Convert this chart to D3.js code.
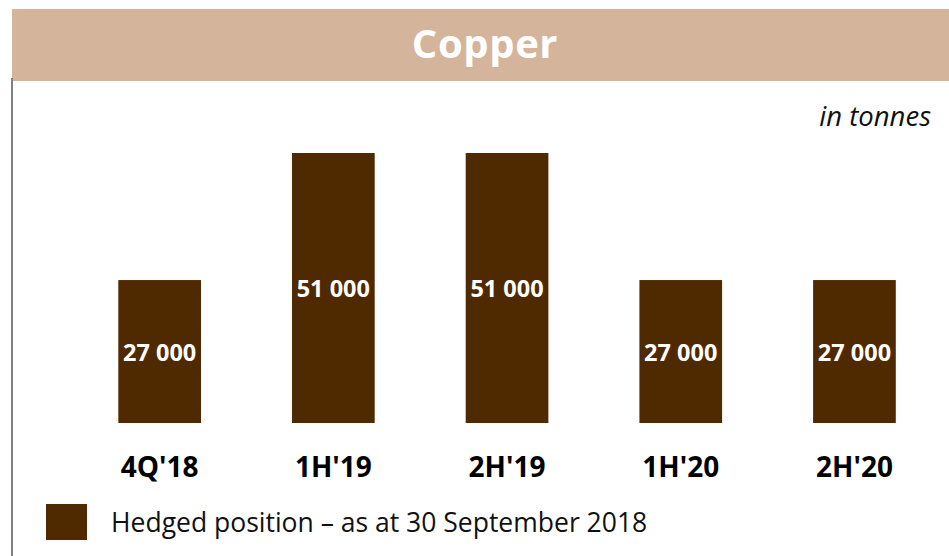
<!DOCTYPE html>
<html>
<head>
<meta charset="utf-8">
<script src="https://cdn.jsdelivr.net/npm/d3@7"></script>
<style>
  html, body { margin: 0; padding: 0; background: #ffffff; }
  svg { display: block; font-family: "Open Sans", sans-serif; }
</style>
</head>
<body>
<svg id="chart" width="949" height="556"></svg>
<script>
// Copper hedged positions per period (tonnes)
const periods = ["4Q'18", "1H'19", "2H'19", "1H'20", "2H'20"];
const hedged = [27000, 51000, 51000, 27000, 27000];
const titleText = "Copper";
const unitText = "in tonnes";
const legendText = "Hedged position – as at 30 September 2018";

const barColor = "#4f2900";
const bannerColor = "#d4b49b";

const svg = d3.select("#chart");

// Header banner
svg.append("rect")
  .attr("x", 12).attr("y", 9)
  .attr("width", 937).attr("height", 72)
  .attr("fill", bannerColor);

svg.append("text")
  .attr("x", 485).attr("y", 58)
  .attr("text-anchor", "middle")
  .attr("fill", "#ffffff")
  .attr("font-weight", 700)
  .attr("font-size", 40)
  .attr("letter-spacing", 0.6)
  .text(titleText);

// Left rule
svg.append("line")
  .attr("x1", 12).attr("x2", 12)
  .attr("y1", 78).attr("y2", 556)
  .attr("stroke", "#808080")
  .attr("stroke-width", 2);

// Unit note
svg.append("text")
  .attr("x", 931).attr("y", 126)
  .attr("text-anchor", "end")
  .attr("font-style", "italic")
  .attr("font-size", 27.5)
  .attr("fill", "#111")
  .text(unitText);

// Scales
const x = d3.scaleBand()
  .domain(periods)
  .range([72.8, 941.3])
  .paddingInner(0.524)
  .paddingOuter(0.262);

const y = d3.scaleLinear()
  .domain([0, 51000])
  .range([423, 153]);

const data = periods.map((p, i) => ({ period: p, value: hedged[i] }));

// Bars
svg.append("g").selectAll("rect")
  .data(data)
  .join("rect")
  .attr("x", d => x(d.period))
  .attr("y", d => y(d.value))
  .attr("width", x.bandwidth())
  .attr("height", d => y(0) - y(d.value))
  .attr("fill", barColor);

// Value labels, centred in each bar
const fmt = v => d3.format(",")(v).replace(/,/g, " ");
svg.append("g").selectAll("text")
  .data(data)
  .join("text")
  .attr("x", d => x(d.period) + x.bandwidth() / 2)
  .attr("y", d => (y(d.value) + y(0)) / 2 + 1)
  .attr("dy", "0.35em")
  .attr("text-anchor", "middle")
  .attr("fill", "#ffffff")
  .attr("font-weight", 700)
  .attr("font-size", 23.5)
  .text(d => fmt(d.value));

// Category axis (labels only)
const xAxis = svg.append("g")
  .attr("transform", "translate(0,423)")
  .call(d3.axisBottom(x).tickSize(0).tickPadding(0));
xAxis.select(".domain").remove();
xAxis.selectAll("text")
  .attr("y", 54)
  .attr("dy", 0)
  .attr("fill", "#000")
  .attr("font-family", "Open Sans, sans-serif")
  .attr("font-weight", 700)
  .attr("font-size", 28);

// Legend
svg.append("rect")
  .attr("x", 46).attr("y", 504)
  .attr("width", 41).attr("height", 36)
  .attr("fill", barColor);
svg.append("text")
  .attr("x", 111).attr("y", 532)
  .attr("font-size", 26.5)
  .attr("fill", "#111")
  .text(legendText);
</script>
</body>
</html>
